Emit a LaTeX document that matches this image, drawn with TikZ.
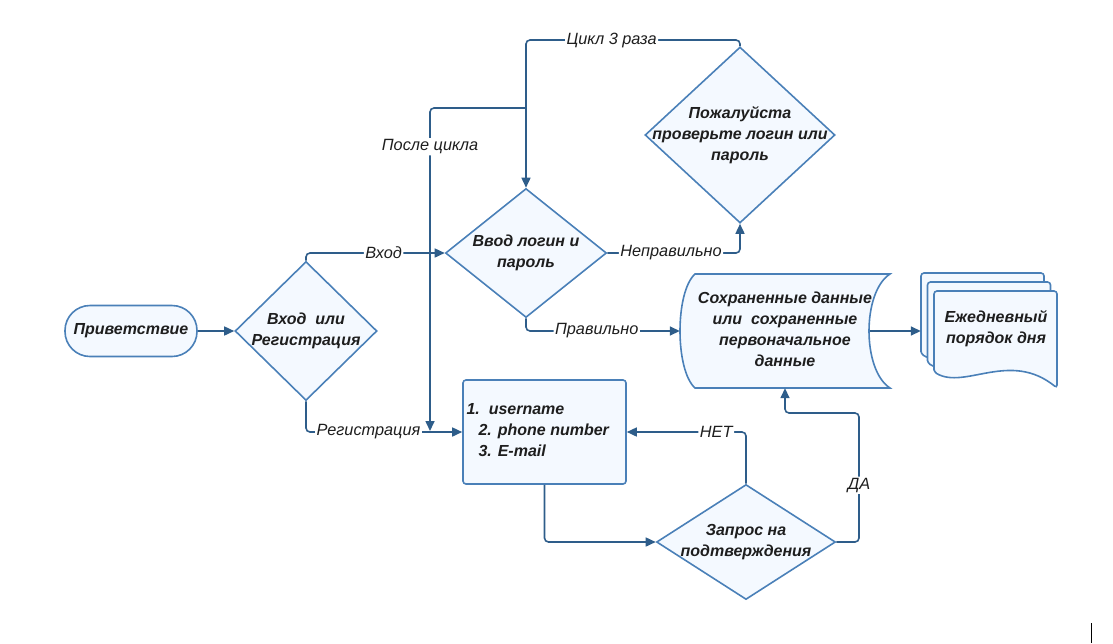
\documentclass[tikz,border=0pt]{standalone}
\usepackage{fontspec}
\setmainfont{Liberation Sans}
\usepackage{xcolor}
\usetikzlibrary{shapes.geometric, arrows.meta, positioning}

\definecolor{lineblue}{HTML}{2E5D8A}
\definecolor{edgeblue}{HTML}{4A80B8}
\definecolor{paleblue}{HTML}{F4F9FF}
\definecolor{inkgray}{HTML}{1E1E1E}

\tikzset{
  box/.style={draw=edgeblue, fill=paleblue, line width=1.6pt},
  decide/.style={box, diamond, inner sep=0pt},
  txt/.style={align=center, text=inkgray, font=\fontsize{16}{21}\selectfont\bfseries\itshape},
  lbl/.style={fill=white, inner sep=1.5pt, text=inkgray, font=\fontsize{16.3}{21}\selectfont\itshape},
  flow/.style={draw=lineblue, line width=1.6pt, rounded corners=4pt, -{Triangle[length=10pt,width=9pt]}},
}

\begin{document}
\begin{tikzpicture}[x=1pt, y=-1pt]
    \useasboundingbox (0,0) rectangle (1113,643);

    % 节点
    \node[box, rounded corners=25pt, minimum width=132pt, minimum height=51pt, txt] (hello) at (131,331) {Приветствие};
    \node[decide, minimum width=142pt, minimum height=139pt] (sel) at (306,331) {};
    \node[txt] (selT) at (sel) {Вход~ или\\Регистрация};
    \node[decide, minimum width=161pt, minimum height=129pt] (login) at (526,253) {};
    \node[txt] (loginT) at (login) {Ввод логин и\\пароль};
    \node[decide, minimum width=190pt, minimum height=176pt] (chk) at (740,135) {};
    \node[txt] (chkT) at (chk) {Пожалуйста\\проверьте логин или\\пароль};
    \node[decide, minimum width=179pt, minimum height=115pt] (ask) at (746,542) {};
    \node[txt] (askT) at (ask) {Запрос на\\подтверждения};
    \node[box, rounded corners=3pt, minimum width=163pt, minimum height=104pt] (info) at (544.5,432) {};
    \node[txt, align=left, anchor=west] (infoT) at (463,430) {1.\ \ username\\\hspace{12pt}2. phone number\\\hspace{12pt}3. E-mail};

    \node[minimum width=210pt, minimum height=114pt, inner sep=0pt] (store) at (785,331) {};
    \draw[box] (695,274) -- (890,274) .. controls (862,292) and (862,370) .. (890,388)
        -- (695,388) .. controls (675,370) and (675,292) .. (695,274) -- cycle;
    \node[txt] (storeT) at (785,329) {Сохраненные данные\\или~ сохраненные\\первоначальное\\данные};

    \node[minimum width=123pt, minimum height=97pt, inner sep=0pt] (plan) at (982.5,321.5) {};
    \foreach \x/\y in {921/273, 927.5/282, 934/291}
        \draw[box, rounded corners=3pt] (\x,\y+81) -- (\x,\y) -- (\x+123,\y) -- (\x+123,\y+97)
            .. controls (\x+76,\y+59) and (\x+31,\y+99) .. (\x,\y+81) -- cycle;
    \node[txt] (planT) at (996,329) {Ежедневный\\порядок дня};

    % 连线
    \coordinate (loopTop) at (526,40);
    \coordinate (split) at (526,108);
    \coordinate (merge) at (430,431);
    \coordinate (daTurn) at (859,413);

    \draw[flow] (hello) -- (sel);
    \draw[flow] (sel.north) |- (login.west) node[lbl, pos=0.78] {Вход};
    \draw[flow] (sel.south) |- (info.west) node[lbl, pos=0.70] {Регистрация};
    \draw[flow] (chk.north) |- (loopTop) node[lbl, pos=0.8] {Цикл 3 раза} -- (login.north);
    \draw[flow] (split) -| (merge) node[lbl, pos=0.56] {После цикла};
    \draw[flow] (login.east) -| (chk.south) node[lbl, pos=0.24] {Неправильно};
    \draw[flow] (login.south) |- (store.west) node[lbl, pos=0.73] {Правильно};
    \draw[flow] ([xshift=-20pt]store.east) -- (store.east -| plan.west);
    \draw[flow] (info.south) |- (ask.west);
    \draw[flow] (ask.north) |- (info.east) node[lbl, pos=0.625] {НЕТ};
    \draw[flow] (ask.east) -| (daTurn) node[lbl, pos=0.72] {ДА} -| (store.south);

    \draw[black, line width=1pt] (1091.5,623) -- (1091.5,643);
\end{tikzpicture}
\end{document}
